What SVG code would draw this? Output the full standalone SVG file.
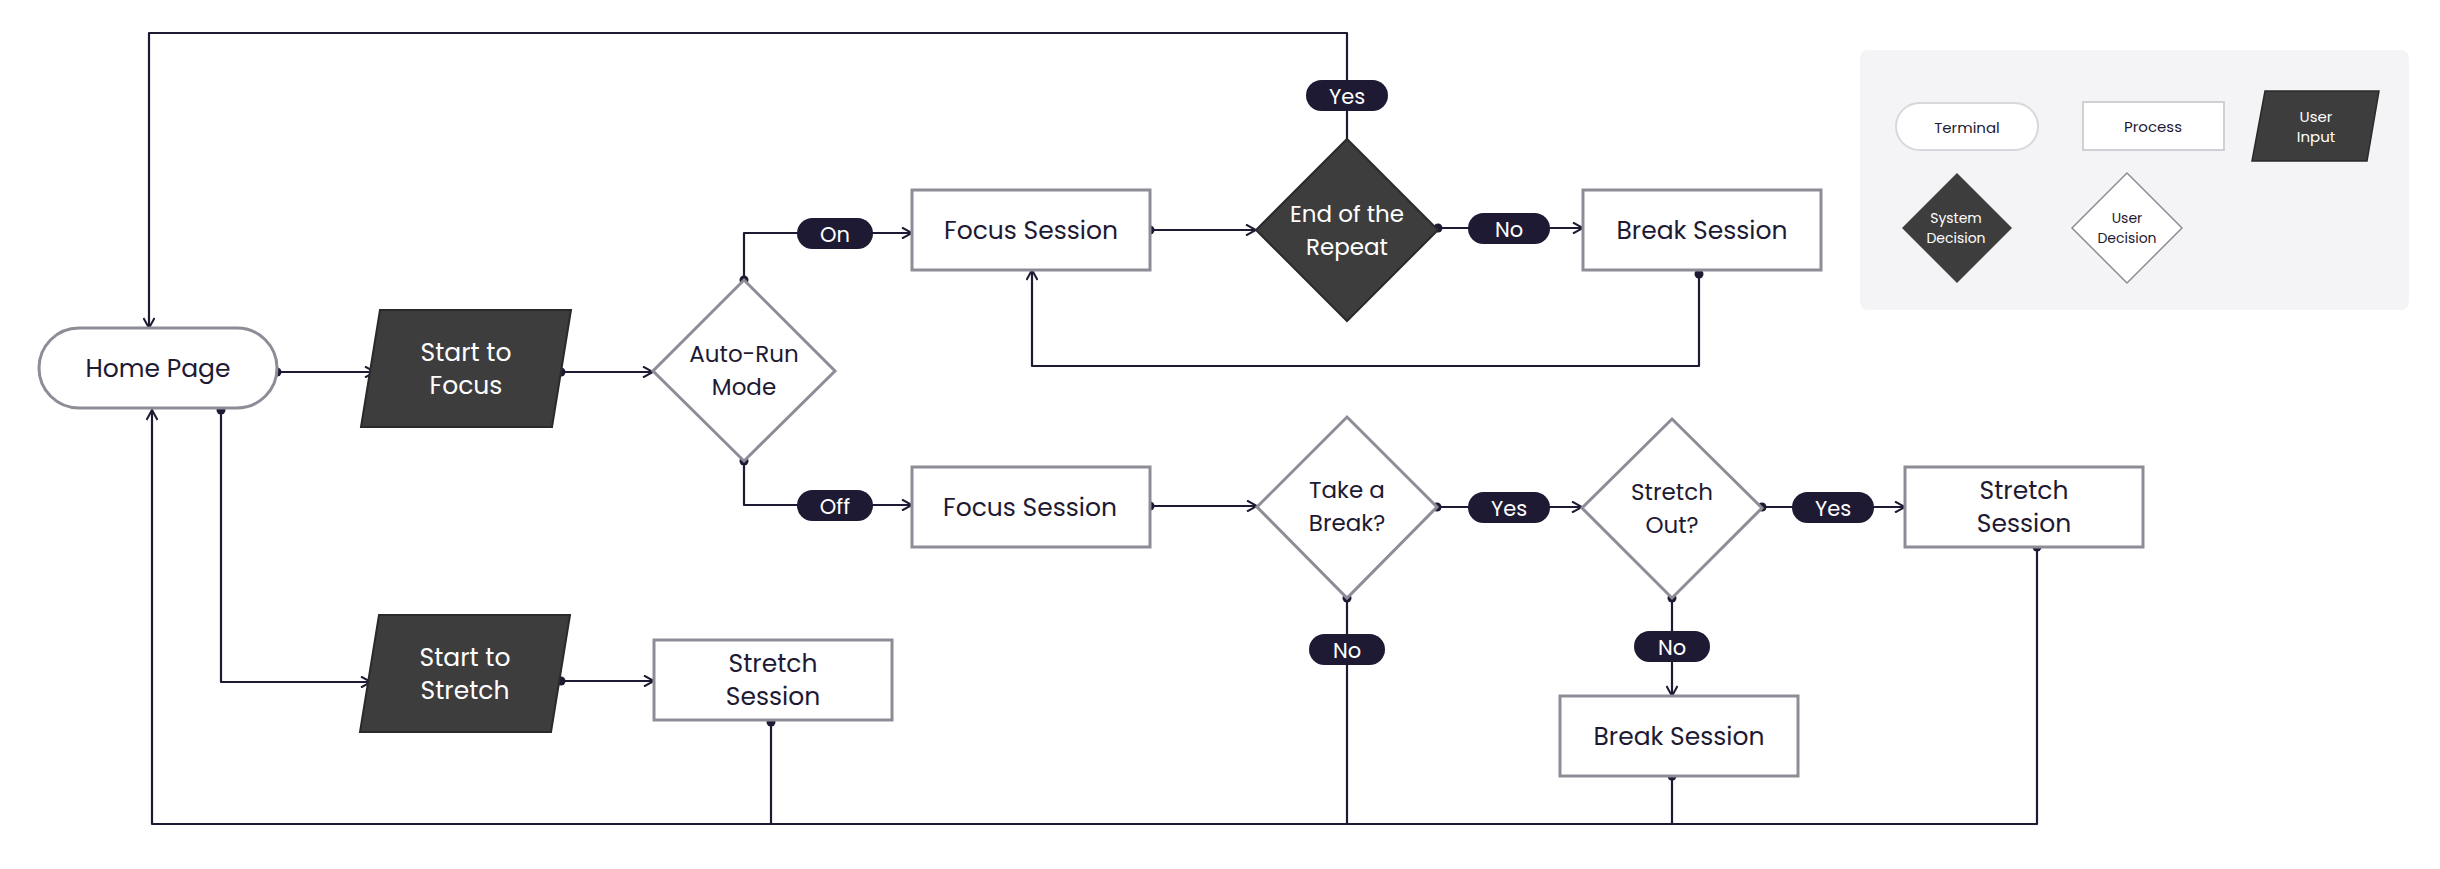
<svg xmlns="http://www.w3.org/2000/svg" width="2440" height="869" viewBox="0 0 2440 869">
<style>
text{font-family:Poppins,"Open Sans","Liberation Sans",sans-serif;text-anchor:middle;dominant-baseline:central}
.t{font-size:25px;fill:#1e1a33}
.tw{font-size:25px;fill:#fff}
.pr{fill:#fff;stroke:#8e8c96;stroke-width:3}
.dk{fill:#3d3d3d;stroke:#2a2a2a;stroke-width:2}
.c{fill:none;stroke:#1e1a33;stroke-width:2.2;stroke-linejoin:round}
.pill{fill:#1e1a33}
.pl{font-size:21px;fill:#fff}
.lg{font-size:15px;fill:#1e1a33}
.lgw{font-size:15px;fill:#fff}
</style>
<defs>
<marker id="a" viewBox="0 0 12 12" refX="11" refY="6" markerWidth="12" markerHeight="12" markerUnits="userSpaceOnUse" orient="auto"><path d="M1,0.5 L11,6 L1,11.5" fill="none" stroke="#1e1a33" stroke-width="2"/></marker>
<marker id="d" viewBox="0 0 10 10" refX="5" refY="5" markerWidth="10" markerHeight="10" markerUnits="userSpaceOnUse"><circle cx="5" cy="5" r="4.5" fill="#1e1a33"/></marker>
</defs>
<rect width="2440" height="869" fill="#fff"/>
<g id="connectors" class="c">
<path d="M277,372 H375" marker-start="url(#d)" marker-end="url(#a)"/>
<path d="M561,372 H653" marker-start="url(#d)" marker-end="url(#a)"/>
<path d="M744,280 V233 H912" marker-start="url(#d)" marker-end="url(#a)"/>
<path d="M744,461 V505 H912" marker-start="url(#d)" marker-end="url(#a)"/>
<path d="M1150,230 H1256" marker-start="url(#d)" marker-end="url(#a)"/>
<path d="M1438,228 H1583" marker-start="url(#d)" marker-end="url(#a)"/>
<path d="M1699,274 V366 H1032 V270" marker-start="url(#d)" marker-end="url(#a)"/>
<path d="M1347,139 V33 H149 V328" marker-end="url(#a)"/>
<path d="M1150,506 H1257" marker-start="url(#d)" marker-end="url(#a)"/>
<path d="M1437,507 H1582" marker-start="url(#d)" marker-end="url(#a)"/>
<path d="M1762,507 H1905" marker-start="url(#d)" marker-end="url(#a)"/>
<path d="M1672,598 V696" marker-start="url(#d)" marker-end="url(#a)"/>
<path d="M221,410 V682 H371" marker-start="url(#d)" marker-end="url(#a)"/>
<path d="M561,681 H654" marker-start="url(#d)" marker-end="url(#a)"/>
<path d="M771,722 V824"  marker-start="url(#d)"/>
<path d="M1347,598 V824" marker-start="url(#d)"/>
<path d="M1672,776 V824" marker-start="url(#d)"/>
<path d="M2037,547 V824 H152 V410" marker-start="url(#d)" marker-end="url(#a)"/>
</g>
<g id="labels">
<rect class="pill" x="1306" y="80" width="82" height="31" rx="15.5"/><text class="pl" x="1347" y="96">Yes</text>
<rect class="pill" x="1468" y="213" width="82" height="31" rx="15.5"/><text class="pl" x="1509" y="229">No</text>
<rect class="pill" x="797" y="218" width="76" height="31" rx="15.5"/><text class="pl" x="835" y="234">On</text>
<rect class="pill" x="797" y="490" width="76" height="31" rx="15.5"/><text class="pl" x="835" y="506">Off</text>
<rect class="pill" x="1468" y="492" width="82" height="31" rx="15.5"/><text class="pl" x="1509" y="508">Yes</text>
<rect class="pill" x="1792" y="492" width="82" height="31" rx="15.5"/><text class="pl" x="1833" y="508">Yes</text>
<rect class="pill" x="1309" y="634" width="76" height="31" rx="15.5"/><text class="pl" x="1347" y="650">No</text>
<rect class="pill" x="1634" y="631" width="76" height="31" rx="15.5"/><text class="pl" x="1672" y="647">No</text>
</g>
<g id="home"><rect class="pr" x="39" y="328" width="238" height="80" rx="40"/><text class="t" x="158" y="368">Home Page</text></g>
<g id="startFocus"><path class="dk" d="M380,310 H571 L552,427 H361 Z"/><text class="tw" x="466" y="352">Start to</text><text class="tw" x="466" y="385">Focus</text></g>
<g id="autoRun"><path class="pr" d="M744,280 L835,371 L744,461 L653,371 Z"/><text class="t" x="744" y="354" style="font-size:23px">Auto-Run</text><text class="t" x="744" y="387" style="font-size:23px">Mode</text></g>
<g id="focus1"><rect class="pr" x="912" y="190" width="238" height="80"/><text class="t" x="1031" y="230">Focus Session</text></g>
<g id="endRepeat"><path class="dk" d="M1347,139 L1438,230 L1347,321 L1256,230 Z"/><text class="tw" x="1347" y="214" style="font-size:23px">End of the</text><text class="tw" x="1347" y="247" style="font-size:23px">Repeat</text></g>
<g id="break1"><rect class="pr" x="1583" y="190" width="238" height="80"/><text class="t" x="1702" y="230">Break Session</text></g>
<g id="focus2"><rect class="pr" x="912" y="467" width="238" height="80"/><text class="t" x="1030" y="507">Focus Session</text></g>
<g id="takeBreak"><path class="pr" d="M1347,417 L1437,507 L1347,598 L1257,507 Z"/><text class="t" x="1347" y="490" style="font-size:23px">Take a</text><text class="t" x="1347" y="523" style="font-size:23px">Break?</text></g>
<g id="stretchOut"><path class="pr" d="M1672,419 L1762,508 L1672,598 L1582,508 Z"/><text class="t" x="1672" y="492" style="font-size:23px">Stretch</text><text class="t" x="1672" y="525" style="font-size:23px">Out?</text></g>
<g id="stretch1"><rect class="pr" x="1905" y="467" width="238" height="80"/><text class="t" x="2024" y="490">Stretch</text><text class="t" x="2024" y="523">Session</text></g>
<g id="break2"><rect class="pr" x="1560" y="696" width="238" height="80"/><text class="t" x="1679" y="736">Break Session</text></g>
<g id="startStretch"><path class="dk" d="M379,615 H570 L551,732 H360 Z"/><text class="tw" x="465" y="657">Start to</text><text class="tw" x="465" y="690">Stretch</text></g>
<g id="stretch2"><rect class="pr" x="654" y="640" width="238" height="80"/><text class="t" x="773" y="663">Stretch</text><text class="t" x="773" y="696">Session</text></g>
<g id="legend">
<rect x="1860" y="50" width="549" height="260" rx="8" fill="#f4f4f6"/>
<rect x="1896" y="103" width="142" height="47" rx="23.5" fill="#fff" stroke="#d8d8dc" stroke-width="2"/><text class="lg" x="1967" y="127">Terminal</text>
<rect x="2083" y="102" width="141" height="48" fill="#fff" stroke="#d0d0d4" stroke-width="2"/><text class="lg" x="2153" y="126">Process</text>
<path d="M2265,91 H2379 L2367,161 H2252 Z" fill="#3d3d3d" stroke="#2a2a2a" stroke-width="1.5"/><text class="lgw" x="2316" y="116">User</text><text class="lgw" x="2316" y="136">Input</text>
<path d="M1957,173 L2012,228 L1957,283 L1902,228 Z" fill="#3d3d3d"/><text class="lgw" x="1956" y="218" style="font-size:14px">System</text><text class="lgw" x="1956" y="238" style="font-size:14px">Decision</text>
<path d="M2127,173 L2182,228 L2127,283 L2072,228 Z" fill="#fff" stroke="#8e8c96" stroke-width="1.5"/><text class="lg" x="2127" y="218" style="font-size:14px">User</text><text class="lg" x="2127" y="238" style="font-size:14px">Decision</text>
</g>
</svg>
